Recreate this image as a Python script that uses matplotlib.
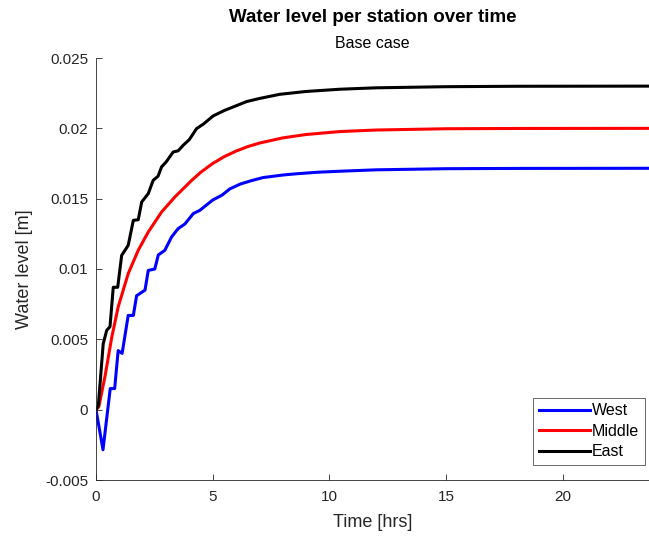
import matplotlib
matplotlib.use("Agg")
import matplotlib.pyplot as plt

plt.rcParams['font.family'] = ['Liberation Sans', 'DejaVu Sans']

# ---- data ----
t_west = [0, 0.3, 0.61, 0.8, 0.95, 1.12, 1.38, 1.6, 1.74, 2.1, 2.24, 2.52, 2.67, 2.95,
          3.24, 3.52, 3.81, 4.17, 4.45, 5.0, 5.4, 5.74, 6.2, 6.7, 7.16, 8.0, 8.59,
          9.5, 10.45, 12.0, 15.0, 18.0, 23.7]
v_west = [0, -0.00285, 0.0015, 0.0015, 0.0042, 0.0040, 0.0067, 0.0067, 0.0081, 0.0085,
          0.0099, 0.0100, 0.0110, 0.01133, 0.01228, 0.01287, 0.0132, 0.01394, 0.01417,
          0.0149, 0.01525, 0.0157, 0.01605, 0.0163, 0.0165, 0.01668, 0.01677,
          0.01688, 0.01695, 0.01705, 0.01713, 0.01715, 0.01716]

t_middle = [0, 0.12, 0.39, 0.67, 0.95, 1.38, 1.81, 2.24, 2.81, 3.38, 3.6, 4.1, 4.5,
            5.0, 5.5, 6.0, 6.5, 7.0, 8.0, 9.0, 10.45, 12.0, 15.0, 18.0, 23.7]
v_middle = [0, 0.0002, 0.0024, 0.0051, 0.0073, 0.00967, 0.01133, 0.01263, 0.01405,
            0.01512, 0.01548, 0.0163, 0.01689, 0.0175, 0.01799, 0.01838, 0.0187,
            0.01895, 0.01932, 0.01956, 0.01977, 0.01988, 0.01997, 0.01999, 0.0200]

t_east = [0, 0.1, 0.31, 0.46, 0.6, 0.74, 0.93, 1.1, 1.38, 1.6, 1.81, 1.96, 2.24, 2.45,
          2.66, 2.81, 3.0, 3.31, 3.52, 3.74, 4.0, 4.31, 4.6, 5.02, 5.5, 6.0, 6.45,
          7.0, 7.88, 9.0, 10.45, 12.0, 15.0, 18.0, 23.7]
v_east = [0, 0.0003, 0.0047, 0.00564, 0.0059, 0.0087, 0.0087, 0.01097, 0.01168, 0.01346,
          0.0135, 0.01477, 0.01536, 0.0163, 0.0166, 0.01726, 0.0176, 0.01832, 0.0184,
          0.0188, 0.0192, 0.01998, 0.0203, 0.02088, 0.02127, 0.0216, 0.0219, 0.02212,
          0.02242, 0.02262, 0.02278, 0.02288, 0.02296, 0.02299, 0.0230]

x_ticks = [0, 5, 10, 15, 20]
y_ticks = [-0.005, 0, 0.005, 0.01, 0.015, 0.02, 0.025]
y_ticklabels = ['-0.005', '0', '0.005', '0.01', '0.015', '0.02', '0.025']

# ---- figure ----
fig = plt.figure(figsize=(6.49, 5.36), dpi=100)
ax = fig.add_axes([96/649, 1 - 480/536, 1 - 96/649, (480 - 58)/536])

axcol = '#262626'
ax.plot(t_west, v_west, color='#0000ff', lw=2.2, label='West')
ax.plot(t_middle, v_middle, color='#ff0000', lw=2.2, label='Middle')
ax.plot(t_east, v_east, color='#000000', lw=2.2, label='East')

ax.set_xlim(0, 23.7)
ax.set_ylim(-0.005, 0.025)
ax.set_xticks(x_ticks)
ax.set_yticks(y_ticks)
ax.set_yticklabels(y_ticklabels)
ax.tick_params(direction='in', length=4, width=0.6, colors=axcol, labelsize=11)
ax.tick_params(axis='x', pad=7.5)
ax.tick_params(axis='y', pad=5.5)
for s in ['top', 'right']:
    ax.spines[s].set_visible(False)
for s in ['left', 'bottom']:
    ax.spines[s].set_color(axcol)
    ax.spines[s].set_linewidth(0.6)

ax.set_xlabel('Time [hrs]', fontsize=13, color=axcol, labelpad=7)
ax.set_ylabel('Water level [m]', fontsize=13, color=axcol, labelpad=9)

xc = (96 + 649) / 2 / 649
fig.text(xc, 1 - 17/536, 'Water level per station over time',
         ha='center', va='center', fontsize=13.5, fontweight='bold', color='black')
fig.text(xc, 1 - 44/536, 'Base case',
         ha='center', va='center', fontsize=11.5, color='black')

leg = ax.legend(loc='lower right', bbox_to_anchor=((645 - 96) / 553, (480 - 465) / 422),
                fontsize=11.5, frameon=True, fancybox=False,
                edgecolor=axcol, handlelength=3.2, handletextpad=0.15,
                labelspacing=0.35, borderpad=0.35, borderaxespad=0.0)
leg.get_frame().set_linewidth(0.6)

fig.savefig('out.png', dpi=100)
